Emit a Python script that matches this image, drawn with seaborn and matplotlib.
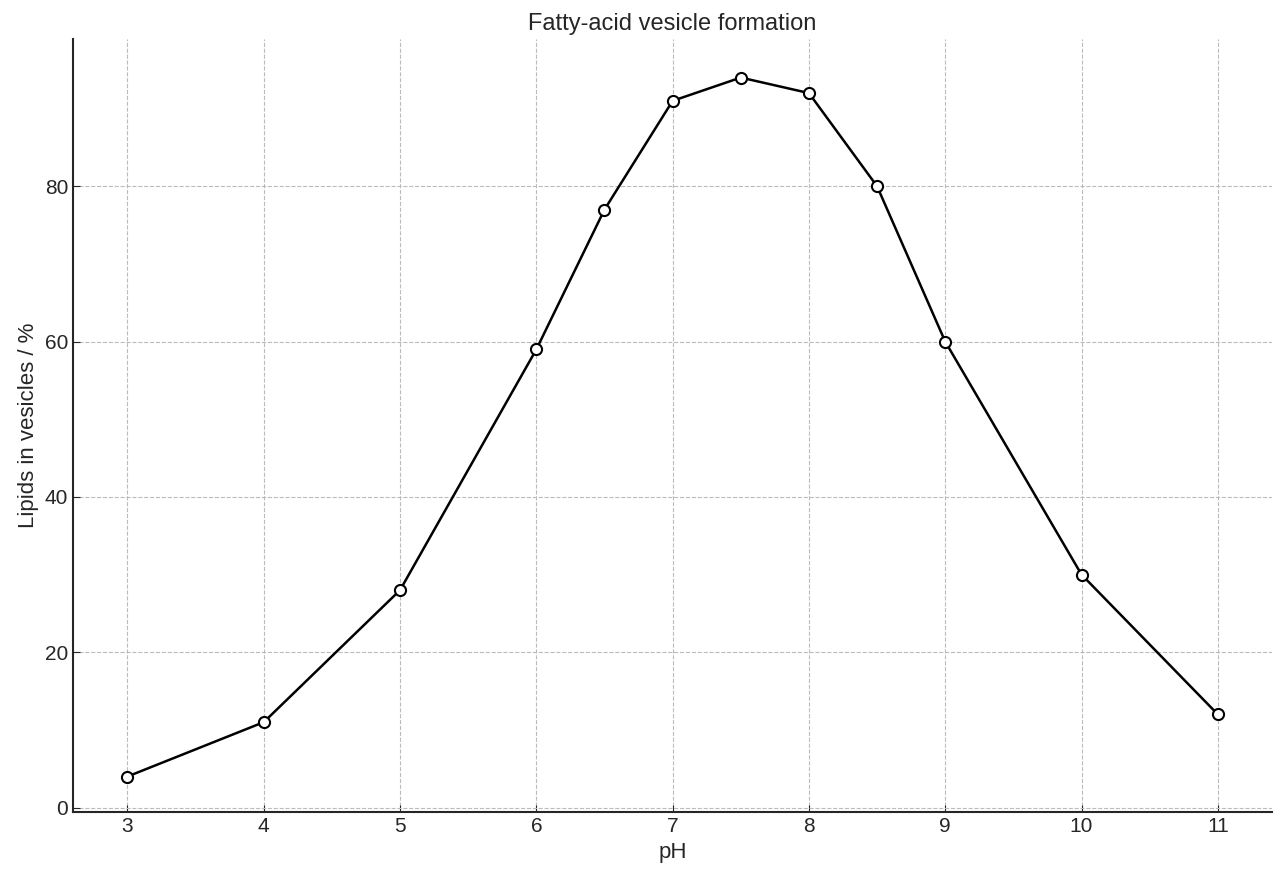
import matplotlib
matplotlib.use("Agg")
import matplotlib.pyplot as plt
import pandas as pd
import seaborn as sns

ph = [3, 4, 5, 6, 6.5, 7, 7.5, 8, 8.5, 9, 10, 11]
vesicle_pct = [4, 11, 28, 59, 77, 91, 94, 92, 80, 60, 30, 12]
x_ticks = [3, 4, 5, 6, 7, 8, 9, 10, 11]
y_ticks = [0, 20, 40, 60, 80]

sns.set_style("ticks")
plt.rcParams["font.family"] = ["Liberation Sans", "DejaVu Sans"]

df = pd.DataFrame({"pH": ph, "pct": vesicle_pct})

fig = plt.figure(figsize=(12.8, 8.8), dpi=100)
ax = fig.add_axes([0.057, 0.077, 0.937, 0.879])

ax.grid(True, color="#bbbbbb", linestyle="--", linewidth=0.8)
ax.set_axisbelow(True)
sns.lineplot(data=df, x="pH", y="pct", ax=ax, color="black", linewidth=1.8,
             marker="o", markersize=8, markerfacecolor="white",
             markeredgecolor="black", markeredgewidth=1.5)

ax.set_xlim(2.6, 11.4)
ax.set_ylim(-0.6, 99)
ax.set_xticks(x_ticks)
ax.set_yticks(y_ticks)
ax.tick_params(direction="in", labelsize=15, length=5)
ax.set_xlabel("pH", fontsize=16)
ax.set_ylabel("Lipids in vesicles / %", fontsize=16)
ax.set_title("Fatty-acid vesicle formation", fontsize=17)
for s in ["top", "right"]:
    ax.spines[s].set_visible(False)
for s in ["left", "bottom"]:
    ax.spines[s].set_linewidth(1.5)

fig.savefig("out.png", dpi=100)
